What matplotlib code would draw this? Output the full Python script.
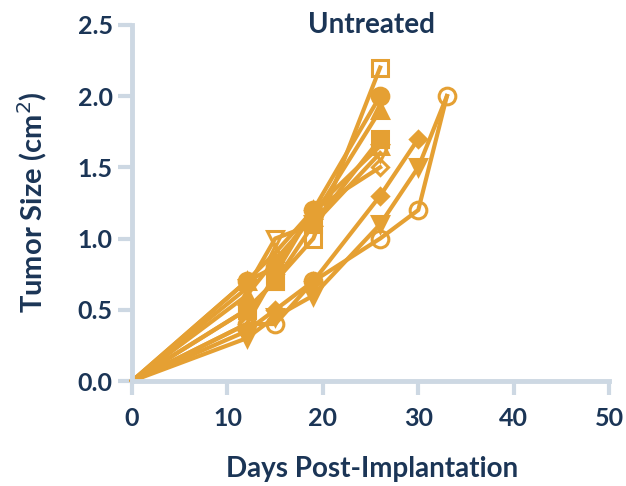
import matplotlib
matplotlib.use("Agg")
import matplotlib.pyplot as plt

# days measured for each mouse
days_a = [0, 12, 15, 19, 26]
days_b = [0, 12, 15, 19, 26, 30]
days_c = [0, 12, 15, 19, 26, 30, 33]

# tumor sizes (cm^2)
open_square = [0, 0.5, 0.7, 1.0, 2.2]
filled_circle = [0, 0.7, 0.8, 1.2, 2.0]
filled_tri_up = [0, 0.6, 0.85, 1.15, 1.9]
filled_square = [0, 0.5, 0.7, 1.1, 1.7]
open_tri_down = [0, 0.65, 1.0, 1.1, 1.6]
open_tri_up = [0, 0.7, 0.9, 1.2, 1.65]
open_diamond = [0, 0.4, 0.75, 1.2, 1.5]
filled_diamond = [0, 0.35, 0.5, 0.7, 1.3, 1.7]
filled_tri_down = [0, 0.3, 0.45, 0.6, 1.1, 1.5, 2.0]
open_circle = [0, 0.4, 0.4, 0.7, 1.0, 1.2, 2.0]

orange = "#E5A033"
navy = "#1B3556"
axis_col = "#CDD8E3"
font = "Lato"

fig = plt.figure(figsize=(6.26, 4.86), dpi=100)
ax = fig.add_axes([0.211, 0.216, 0.762, 0.733])

# last point of the filled down-triangle sits under the open circle
series = [
    (days_a, open_square, "s", "none", slice(1, None)),
    (days_a, filled_circle, "o", orange, slice(1, None)),
    (days_a, filled_tri_up, "^", orange, slice(1, None)),
    (days_a, filled_square, "s", orange, slice(1, None)),
    (days_a, open_tri_down, "v", "none", slice(1, None)),
    (days_a, open_tri_up, "^", "none", slice(1, None)),
    (days_a, open_diamond, "D", "none", slice(1, None)),
    (days_b, filled_diamond, "D", orange, slice(1, None)),
    (days_c, filled_tri_down, "v", orange, slice(1, -1)),
    (days_c, open_circle, "o", "none", slice(1, None)),
]
for x, y, m, fc, every in series:
    ms = 8.5 if m == "D" else 12
    ax.plot(x, y, color=orange, lw=3, marker=m, ms=ms, mfc=fc,
            mec=orange, mew=2.2, markevery=every, clip_on=False)

ax.set_xlim(0, 50)
ax.set_ylim(0, 2.5)
ax.set_xticks([0, 10, 20, 30, 40, 50])
ax.set_yticks([0, 0.5, 1.0, 1.5, 2.0, 2.5])
ax.set_yticklabels(["0.0", "0.5", "1.0", "1.5", "2.0", "2.5"])

for s in ["top", "right"]:
    ax.spines[s].set_visible(False)
for s in ["left", "bottom"]:
    ax.spines[s].set_color(axis_col)
    ax.spines[s].set_linewidth(3.5)
ax.tick_params(colors=axis_col, width=3, length=10, labelcolor=navy,
               labelsize=18)
ax.tick_params(axis="y", pad=4)
ax.tick_params(axis="x", pad=9)
for lab in ax.get_xticklabels() + ax.get_yticklabels():
    lab.set_fontweight("bold")
    lab.set_family(font)

fig.text(372 / 626, 1 - 469 / 486, "Days Post-Implantation", fontsize=20,
         fontweight="bold", color=navy, family=font, ha="center", va="center")
fig.text(32 / 626, 1 - 202 / 486, "Tumor Size (cm$^2$)", fontsize=21,
         fontweight="bold", color=navy, family=font, ha="center", va="center",
         rotation=90)
fig.text(372 / 626, 1 - 25 / 486, "Untreated", fontsize=20,
         fontweight="bold", color=navy, family=font, ha="center", va="center")

plt.savefig("out.png", dpi=100)
